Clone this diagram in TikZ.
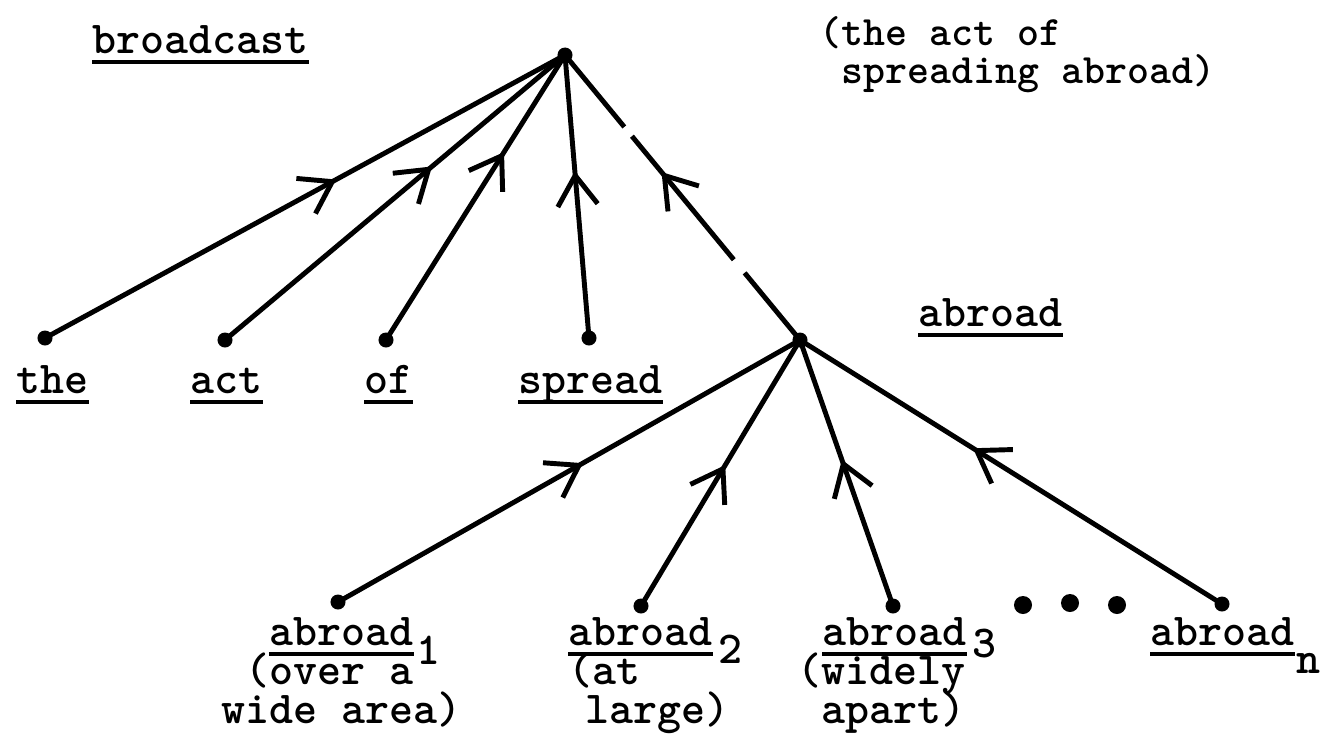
\documentclass[tikz,border=0pt]{standalone}
\usepackage{fontspec}
\usetikzlibrary{arrows.meta,decorations.markings,positioning}

\tikzset{
  dot/.style={circle,fill=black,inner sep=0pt,minimum size=0.15cm},
  bigdot/.style={circle,fill=black,inner sep=0pt,minimum size=0.18cm},
  word/.style={inner sep=0pt,anchor=base west,text depth=0pt,
      font=\ttfamily\bfseries\fontsize{13}{15}\selectfont},
  gloss/.style={word,font=\ttfamily\bfseries\fontsize{11.9}{14}\selectfont},
  ul/.style={append after command={([yshift=-0.09cm]\tikzlastnode.base west)
      edge[line width=1.1pt] ([yshift=-0.09cm]\tikzlastnode.base east)}},
  edge/.style={line width=1.4pt},
  midarr/.style={postaction={decorate},decoration={markings,
      mark=at position #1 with {\arrow{Straight Barb[length=3mm,width=4mm]}}}}
}

\begin{document}
\begin{tikzpicture}[x=0.01cm,y=-0.01cm]
      \useasboundingbox (0,0) rectangle (1323,736);
      % points of the upper tree
      \node[dot] (root) at (565,55) {};
      \node[dot] (n-the) at (45,338) {};
      \node[dot] (n-act) at (225,340) {};
      \node[dot] (n-of) at (386,340) {};
      \node[dot] (n-spread) at (589,338) {};
      \node[dot] (n-abr) at (800,340) {};
      % points of the lower tree
      \node[dot] (n-a1) at (338,602) {};
      \node[dot] (n-a2) at (641,606) {};
      \node[dot] (n-a3) at (893,606) {};
      \node[dot] (n-an) at (1222,604) {};
      \node[bigdot] (e1) at (1023,605) {};
      \node[bigdot] (e2) at (1070,603) {};
      \node[bigdot] (e3) at (1117,605) {};

      \draw[edge,midarr=0.56] (n-the.center) -- (root.center);
      \draw[edge,midarr=0.61] (n-act.center) -- (root.center);
      \draw[edge,midarr=0.66] (n-of.center) -- (root.center);
      \draw[edge,midarr=0.59] (n-spread.center) -- (root.center);
      \draw[edge,midarr=0.59,dash pattern=on 0.87cm off 0.17cm on 1.6cm off 0.12cm on 3cm] (n-abr.center) -- (root.center);
      \draw[edge,midarr=0.53] (n-a1.center) -- (n-abr.center);
      \draw[edge,midarr=0.53] (n-a2.center) -- (n-abr.center);
      \draw[edge,midarr=0.55] (n-a3.center) -- (n-abr.center);
      \draw[edge,midarr=0.59] (n-an.center) -- (n-abr.center);

      % words
      \node[word,ul] (l-broadcast) at (92,53) {broadcast};
      \node[gloss] (l-gloss1) at (819,45) {(the act of};
      \node[gloss] (l-gloss2) at (841,83) {spreading abroad)};
      \node[word,ul] (l-the) at (16,393) {the};
      \node[word,ul] (l-act) at (190,393) {act};
      \node[word,ul] (l-of) at (364,393) {of};
      \node[word,ul] (l-spread) at (518,393) {spread};
      \node[word,ul] (l-abr) at (918,326) {abroad};

      \node[word,ul] (l-a1) at (269,645) {abroad};
      \node[word] (s-a1) at (416,664) {1};
      \node[word] (l-a1b) at (245,684) {(over a};
      \node[word] (l-a1c) at (221,723) {wide area)};
      \node[word,ul] (l-a2) at (568,645) {abroad};
      \node[word] (s-a2) at (718,663) {2};
      \node[word] (l-a2b) at (568,684) {(at};
      \node[word] (l-a2c) at (585,723) {large)};
      \node[word,ul] (l-a3) at (822,645) {abroad};
      \node[word] (s-a3) at (972,657) {3};
      \node[word] (l-a3b) at (797,684) {(widely};
      \node[word] (l-a3c) at (821,723) {apart)};
      \node[word,ul] (l-an) at (1150,645) {abroad};
      \node[word] (s-an) at (1296,673) {n};
\end{tikzpicture}
\end{document}
